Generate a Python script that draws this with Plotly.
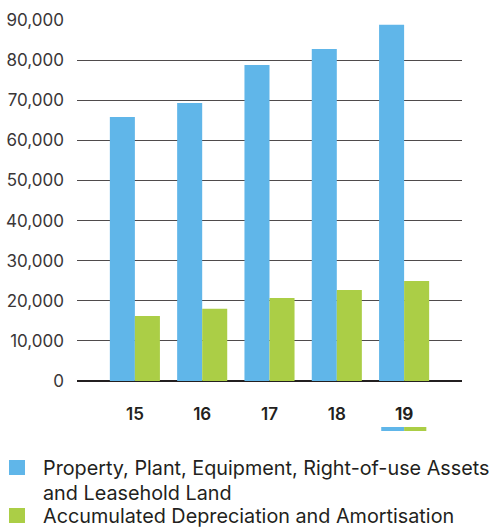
import plotly.graph_objects as go

years = ["15", "16", "17", "18", "19"]
ppe = [65800, 69300, 78800, 82800, 88800]
dep = [16200, 18000, 20700, 22700, 24900]
series_names = [
    "Property, Plant, Equipment, Right-of-use Assets<br>and Leasehold Land",
    "Accumulated Depreciation and Amortisation",
]
y_ticks = [0, 10000, 20000, 30000, 40000, 50000, 60000, 70000, 80000, 90000]
highlight = "19"

BLUE = "#60B6E9"
GREEN = "#ABCE46"
FONT = "Inter"

fig = go.Figure()
fig.add_trace(go.Bar(x=years, y=ppe, name=series_names[0], marker_color=BLUE, marker_line_width=0))
fig.add_trace(go.Bar(x=years, y=dep, name=series_names[1], marker_color=GREEN, marker_line_width=0))

ticktext = [f"<b>{y}</b>" if y == highlight else y for y in years]

fig.update_layout(
    width=489, height=532,
    margin=dict(l=77, r=27, t=20, b=151),
    paper_bgcolor="white", plot_bgcolor="white",
    barmode="group", bargap=0.256, bargroupgap=0,
    showlegend=False,
    font=dict(family=FONT, color="#231f20"),
    xaxis=dict(
        type="category", range=[-0.86, 4.86], automargin=False,
        tickvals=years, ticktext=ticktext,
        tickfont=dict(size=17, color="#231f20", weight=600),
        ticklabelstandoff=21, showgrid=False, showline=False, ticks="",
    ),
    yaxis=dict(
        range=[0, 90000], tickvals=y_ticks, tickformat=",", automargin=False,
        tickfont=dict(size=17, color="#3a3637"),
        gridcolor="#4f4b4c", gridwidth=1.2,
        zeroline=True, zerolinecolor="#231f20", zerolinewidth=1.5,
        ticks="", ticklabelstandoff=12, showline=False,
    ),
)

# highlight underline beneath the current year
hi = years.index(highlight)
fig.add_shape(type="rect", xref="x", yref="paper", x0=hi - 0.34, x1=hi, y0=-0.1385, y1=-0.1274,
              fillcolor=BLUE, line_width=0)
fig.add_shape(type="rect", xref="x", yref="paper", x0=hi, x1=hi + 0.33, y0=-0.1385, y1=-0.1274,
              fillcolor=GREEN, line_width=0)

# custom legend
def px_x(p):
    return (p - 77) / 385

def px_y(p):
    return (381 - p) / 361

legend_rows = [
    (BLUE, 460, series_names[0].split("<br>"), [467.5, 493]),
    (GREEN, 508, [series_names[1]], [515.5]),
]
for color, sq_top, lines, centers in legend_rows:
    fig.add_shape(type="rect", xref="paper", yref="paper",
                  x0=px_x(9), x1=px_x(25), y0=px_y(sq_top), y1=px_y(sq_top + 15),
                  fillcolor=color, line_width=0)
    for text, c in zip(lines, centers):
        fig.add_annotation(xref="paper", yref="paper", x=px_x(41), y=px_y(c),
                           xanchor="left", yanchor="middle", text=text, showarrow=False,
                           font=dict(size=19.8, color="#231f20", family=FONT))

fig.write_html("out.html", config={"displayModeBar": False},
               post_script="document.body.style.margin='0';document.body.style.padding='0';")
